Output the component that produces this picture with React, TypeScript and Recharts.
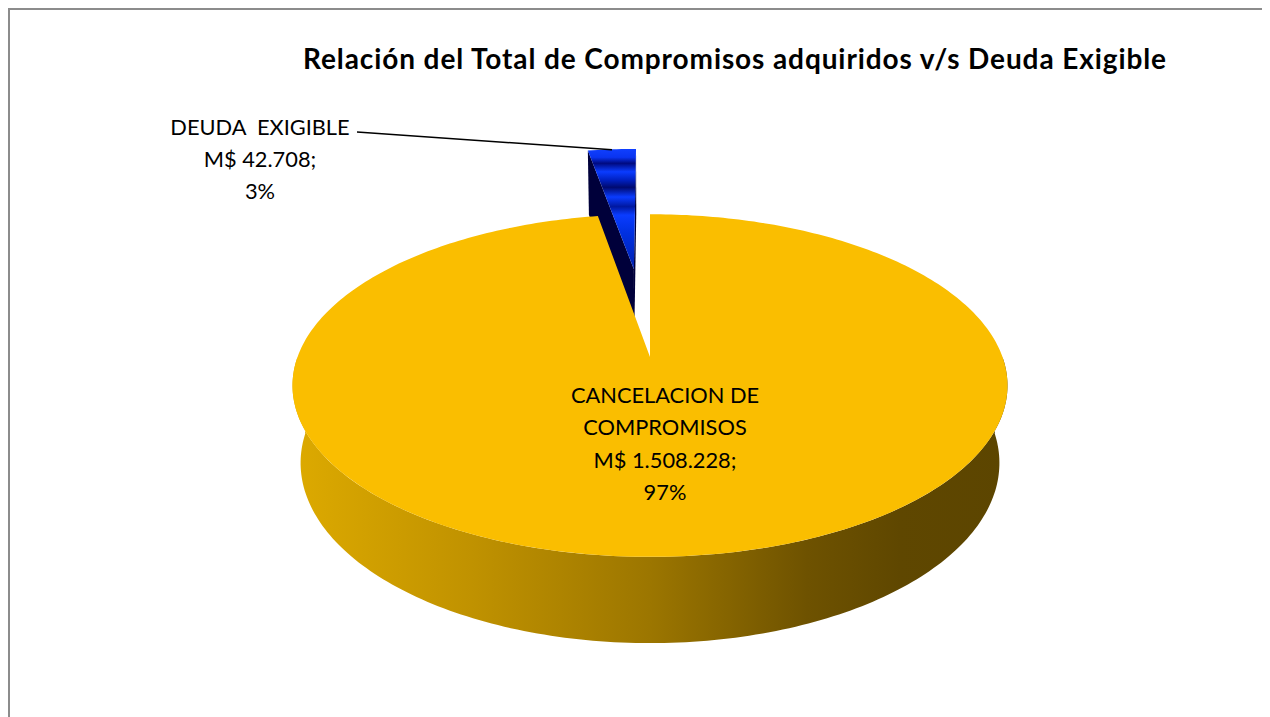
import React from 'react'
import { PieChart, Pie } from 'recharts'

// chart values
const categories = ['DEUDA  EXIGIBLE', 'CANCELACION DE COMPROMISOS']
const amounts = [42708, 1508228]
const labelNames = [['DEUDA  EXIGIBLE'], ['CANCELACION DE', 'COMPROMISOS']]
const title = 'Relación del Total de Compromisos adquiridos v/s Deuda Exigible'

const data = categories.map((name, i) => ({ name, value: amounts[i] }))

// excel-like 3d perspective: camera distance (in radii), tilt, slab thickness
const DIST = 5.29
const TILT = (28.2 * Math.PI) / 180
const THICK = 0.252
const RAD = Math.PI / 180

const sliceStyle = [
  { id: 'deuda', top: 'url(#deudaTop)', side: '#001a8c', cut: '#00003a', explode: 0.58 },
  { id: 'cancel', top: '#FABE00', side: 'url(#cancelSide)', cut: '#9a7400', explode: 0 },
]

const FONT = 'Lato, "Open Sans", sans-serif'

const fmt = (v: number) => v.toString().replace(/\B(?=(\d{3})+(?!\d))/g, '.')

function makeProj(cx: number, cy: number, r: number) {
  const c = Math.cos(TILT)
  const s = Math.sin(TILT)
  const F = r * DIST
  return (X: number, Y: number, Z: number): [number, number] => {
    const w = DIST + Z * c - Y * s
    return [cx + (F * X) / w, cy - (F * (Y * c + Z * s)) / w]
  }
}

const toPath = (pts: [number, number][]) =>
  'M' + pts.map((p) => p[0].toFixed(2) + ',' + p[1].toFixed(2)).join('L') + 'Z'

function Slice3D(props: any) {
  const { cx, cy, outerRadius, startAngle, endAngle } = props
  const name = props.name ?? props.payload?.name
  const i = Math.max(0, categories.indexOf(name))
  const st = sliceStyle[i]
  const proj = makeProj(cx, cy, outerRadius)
  const a0 = Math.min(startAngle, endAngle)
  const a1 = Math.max(startAngle, endAngle)
  const mid = props.midAngle ?? (a0 + a1) / 2
  const ox = st.explode * Math.cos(mid * RAD)
  const oz = st.explode * Math.sin(mid * RAD)
  const pt = (deg: number, y: number) => proj(ox + Math.cos(deg * RAD), y, oz + Math.sin(deg * RAD))
  const arc = (from: number, to: number, y: number) => {
    const n = Math.max(2, Math.ceil(Math.abs(to - from)))
    const out: [number, number][] = []
    for (let k = 0; k <= n; k++) out.push(pt(from + ((to - from) * k) / n, y))
    return out
  }
  const apexTop = proj(ox, 0, oz)
  const apexBot = proj(ox, -THICK, oz)
  const dc = DIST * Math.cos(TILT)

  const sides: string[] = []
  for (const k of [-360, 0, 360]) {
    const lo = Math.max(a0, 180 + k)
    const hi = Math.min(a1, 360 + k)
    if (hi > lo) sides.push(toPath([...arc(lo, hi, 0), ...arc(hi, lo, -THICK)]))
  }
  const cuts: string[] = []
  if (ox * Math.sin(a1 * RAD) - Math.cos(a1 * RAD) * (dc + oz) > 0.001)
    cuts.push(toPath([apexTop, pt(a1, 0), pt(a1, -THICK), apexBot]))
  if (-ox * Math.sin(a0 * RAD) + Math.cos(a0 * RAD) * (dc + oz) > 0.001)
    cuts.push(toPath([apexTop, pt(a0, 0), pt(a0, -THICK), apexBot]))

  const top = toPath([apexTop, ...arc(a0, a1, 0)])

  return (
    <g className={'slice-' + st.id}>
      <defs>
        <linearGradient id="cancelSide" x1="0" y1="0" x2="1" y2="0">
          <stop offset="0" stopColor="#DDAA00" />
          <stop offset="0.25" stopColor="#C09200" />
          <stop offset="0.5" stopColor="#9C7600" />
          <stop offset="0.72" stopColor="#6E5200" />
          <stop offset="0.85" stopColor="#5F4700" />
          <stop offset="1" stopColor="#5C4500" />
        </linearGradient>
        <linearGradient id="deudaTop" x1="0" y1="0" x2="0" y2="1">
          <stop offset="0" stopColor="#1040FF" />
          <stop offset="0.07" stopColor="#0a34f0" />
          <stop offset="0.12" stopColor="#000a80" />
          <stop offset="0.19" stopColor="#0a3cff" />
          <stop offset="0.26" stopColor="#0020c0" />
          <stop offset="0.32" stopColor="#000a70" />
          <stop offset="0.4" stopColor="#0a3cff" />
          <stop offset="0.48" stopColor="#0018a0" />
          <stop offset="0.55" stopColor="#0a3cff" />
          <stop offset="0.7" stopColor="#0030e0" />
          <stop offset="1" stopColor="#0020b0" />
        </linearGradient>
      </defs>
      {cuts.map((d, k) => (
        <path key={'c' + k} d={d} fill={st.cut} />
      ))}
      {sides.map((d, k) => (
        <path key={'s' + k} d={d} fill={st.side} />
      ))}
      <path d={top} fill={st.top} />
    </g>
  )
}

function SliceLabel(props: any) {
  const { cx, cy, outerRadius, midAngle, percent, value } = props
  const name = props.name ?? props.payload?.name
  const i = categories.indexOf(name)
  if (i < 0) return null
  const lines = [...labelNames[i], `M$ ${fmt(value)};`, `${Math.round(percent * 100)}%`]
  const style = { fontFamily: FONT, fontSize: 21.8, fill: '#000', whiteSpace: 'pre' as const }
  if (i === 0) {
    const proj = makeProj(cx, cy, outerRadius)
    const e = sliceStyle[0].explode
    const m = midAngle * RAD
    const end = proj(e * Math.cos(m) + 0.995 * Math.cos(m), 0, e * Math.sin(m) + 0.995 * Math.sin(m))
    const tx = cx - 390
    const ty = cy - 222
    return (
      <g>
        <path d={`M${tx + 97},${ty - 3}L${end[0]},${end[1]}`} stroke="#000" strokeWidth={1.5} fill="none" />
        <text x={tx} y={ty} textAnchor="middle" style={style}>
          {lines.map((l, k) => (
            <tspan key={k} x={tx} dy={k === 0 ? 0 : 32}>
              {l}
            </tspan>
          ))}
        </text>
      </g>
    )
  }
  const tx = cx + 15
  const ty = cy + 46
  return (
    <text x={tx} y={ty} textAnchor="middle" style={style}>
      {lines.map((l, k) => (
        <tspan key={k} x={tx} dy={k === 0 ? 0 : 32.3}>
          {l}
        </tspan>
      ))}
    </text>
  )
}

export default function App() {
  return (
    <div style={{ width: 1262, height: 709, overflow: 'hidden' }}>
      <div
        style={{
          position: 'relative',
          width: 1320,
          height: 780,
          border: '2px solid #8c8c8c',
          boxSizing: 'border-box',
          background: '#fff',
        }}
      >
        <PieChart width={1300} height={760} margin={{ top: 0, right: 0, bottom: 0, left: 0 }}>
          <Pie
            data={data}
            dataKey="value"
            nameKey="name"
            cx={640}
            cy={347}
            outerRadius={352.5}
            startAngle={90}
            endAngle={450}
            stroke="none"
            shape={Slice3D}
            activeShape={Slice3D}
            inactiveShape={Slice3D}
            label={SliceLabel}
            labelLine={false}
            isAnimationActive={false}
          />
        </PieChart>
        <svg
          width={1300}
          height={100}
          style={{ position: 'absolute', left: 0, top: 0, pointerEvents: 'none' }}
        >
          <text
            x={725}
            y={59}
            textAnchor="middle"
            style={{ fontFamily: FONT, fontSize: 28, fontWeight: 700, letterSpacing: 0.9, fill: '#000' }}
          >
            {title}
          </text>
        </svg>
      </div>
    </div>
  )
}
